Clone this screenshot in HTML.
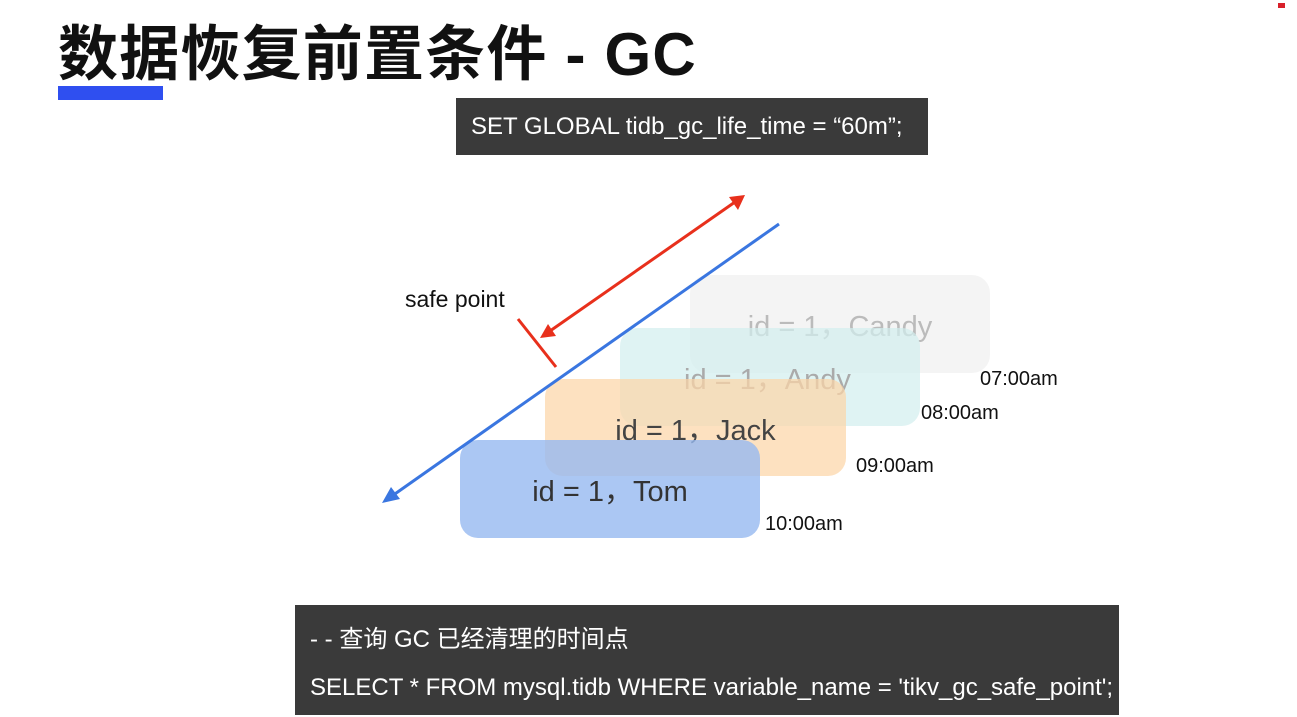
<!DOCTYPE html>
<html><head><meta charset="utf-8"><style>
body{margin:0;width:1297px;height:717px;background:#fff;position:relative;overflow:hidden;font-family:"Liberation Sans","Noto Sans CJK SC",sans-serif}
.a{position:absolute}
.box{position:absolute;border-radius:18px;display:flex;align-items:center;justify-content:center;font-size:29px}
.t{position:absolute;font-size:20px;color:#111}
</style></head><body>
<div class="a" style="left:58px;top:6px;font-size:60px;font-weight:bold;color:#111;letter-spacing:1.2px;white-space:nowrap">数据恢复前置条件 - GC</div>
<div class="a" style="left:58px;top:86px;width:105px;height:14px;background:#2f4ff0"></div>
<div class="a" style="left:456px;top:98px;width:472px;height:57px;background:#3a3a3a;color:#fff;font-size:24px;line-height:57px;text-indent:15px;white-space:nowrap">SET GLOBAL tidb_gc_life_time = “60m”;</div>
<div class="box" style="left:690px;top:275px;width:300px;height:98px;background:rgba(240,240,240,0.7);color:#bbb">id = 1，Candy</div>
<div class="box" style="left:620px;top:328px;width:300px;height:98px;background:rgba(210,238,238,0.7);color:#aaa;justify-content:flex-start;padding-left:64px;box-sizing:border-box">id = 1，Andy</div>
<div class="box" style="left:545px;top:379px;width:301px;height:97px;background:rgba(252,214,168,0.72);color:#444">id = 1，Jack</div>
<div class="box" style="left:460px;top:440px;width:300px;height:98px;background:rgba(150,185,240,0.8);color:#333">id = 1，Tom</div>
<div class="t" style="left:980px;top:368px">07:00am</div>
<div class="t" style="left:921px;top:402px">08:00am</div>
<div class="t" style="left:856px;top:455px">09:00am</div>
<div class="t" style="left:765px;top:513px">10:00am</div>
<div class="t" style="left:405px;top:286px;font-size:23px">safe point</div>
<svg class="a" style="left:0;top:0" width="1297" height="717">
<line x1="779" y1="224" x2="392" y2="496" stroke="#3a76e0" stroke-width="3"/>
<polygon points="382,503 391,487 400,499" fill="#3a76e0"/>
<line x1="550" y1="331" x2="735" y2="202" stroke="#e8301c" stroke-width="3"/>
<polygon points="745,195 729,197 738,210" fill="#e8301c"/>
<polygon points="540,338 548,324 556,336" fill="#e8301c"/>
<line x1="518" y1="319" x2="556" y2="367" stroke="#e8301c" stroke-width="3"/>
<rect x="1278" y="3" width="7" height="5" fill="#d8202a"/>
</svg>
<div class="a" style="left:295px;top:605px;width:824px;height:110px;background:#3a3a3a;color:#fff;font-size:24px;white-space:nowrap">
<div style="position:absolute;left:15px;top:14px">- - 查询 GC 已经清理的时间点</div>
<div style="position:absolute;left:15px;top:69px">SELECT * FROM mysql.tidb WHERE variable_name = 'tikv_gc_safe_point';</div>
</div>
</body></html>
